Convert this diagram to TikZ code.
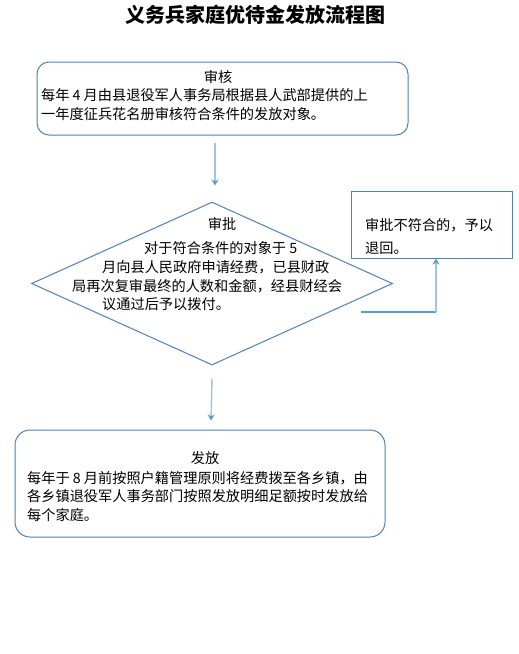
\documentclass[tikz,border=0pt]{standalone}
\usepackage{fontspec}
\usetikzlibrary{shapes.geometric,arrows.meta}
\newfontfamily\cjk{Noto Sans CJK SC}
\definecolor{bordc}{RGB}{79,129,189}
\definecolor{arrc}{RGB}{157,195,230}
\definecolor{tipc}{RGB}{91,155,213}
\tikzset{
  boxline/.style={draw=bordc, line width=1pt},
  txt/.style={inner sep=0pt, font=\cjk\fontsize{14.2pt}{16pt}\selectfont, text=black},
  flowarrow/.style={draw=arrc, line width=1.4pt, -{Stealth[length=6pt,width=7pt,color=tipc]}},
}
\newcommand{\dg}[1]{\hspace{0.22em}#1\hspace{0.22em}}
\begin{document}
\begin{tikzpicture}[x=1pt,y=-1pt]
\useasboundingbox[fill=white] (0,0) rectangle (519,654);
% title
\node[inner sep=0pt, font=\cjk\bfseries\fontsize{20pt}{22pt}\selectfont] (title) at (255.5,15) {义务兵家庭优待金发放流程图};
% box 1
\node[boxline, rounded corners=12pt, minimum width=371pt, minimum height=73pt, inner sep=0pt] (box1) at (222.5,98.5) {};
\node[txt] (b1t) at (218,77) {审核};
\node[txt, anchor=west] (b1l1) at (41,95) {每年\dg{4}月由县退役军人事务局根据县人武部提供的上};
\node[txt, anchor=west] (b1l2) at (41,114) {一年度征兵花名册审核符合条件的发放对象。};
% diamond
\node[boxline, diamond, minimum width=361pt, minimum height=163pt, inner sep=0pt] (diamond) at (212,283.5) {};
\node[txt] (dt) at (222,224) {审批};
\node[txt, anchor=west] (dl1) at (144,248) {对于符合条件的对象于\dg{5}};
\node[txt, anchor=west] (dl2) at (102,267) {月向县人民政府申请经费，已县财政};
\node[txt, anchor=west] (dl3) at (72,286) {局再次复审最终的人数和金额，经县财经会};
\node[txt, anchor=west] (dl4) at (102,304) {议通过后予以拨付。};
% reject box
\node[boxline, minimum width=161pt, minimum height=67pt, inner sep=0pt] (reject) at (431.5,224.5) {};
\node[txt, anchor=west] (rl1) at (365,225) {审批不符合的，予以};
\node[txt, anchor=west] (rl2) at (365,248) {退回。};
% box 3
\node[boxline, rounded corners=15pt, minimum width=370pt, minimum height=107pt, inner sep=0pt] (box3) at (200,483.5) {};
\node[txt] (b3t) at (205,458) {发放};
\node[txt, anchor=west] (b3l1) at (27,478) {每年于\dg{8}月前按照户籍管理原则将经费拨至各乡镇，由};
\node[txt, anchor=west] (b3l2) at (27,496) {各乡镇退役军人事务部门按照发放明细足额按时发放给};
\node[txt, anchor=west] (b3l3) at (27,515) {每个家庭。};
% connectors
\draw[flowarrow] ([xshift=-7.5pt,yshift=-7pt]box1.south) -- ([xshift=3pt,yshift=16pt]diamond.north);
\draw[flowarrow] ([yshift=-13pt]diamond.south) -- ([xshift=11pt,yshift=9pt]box3.north);
\coordinate (rj) at (361,312);
\draw[draw=tipc, line width=1.2pt] (rj) -- (436,312);
\draw[flowarrow] (436,312) -- ([xshift=4.5pt]reject.south);
\end{tikzpicture}
\end{document}
